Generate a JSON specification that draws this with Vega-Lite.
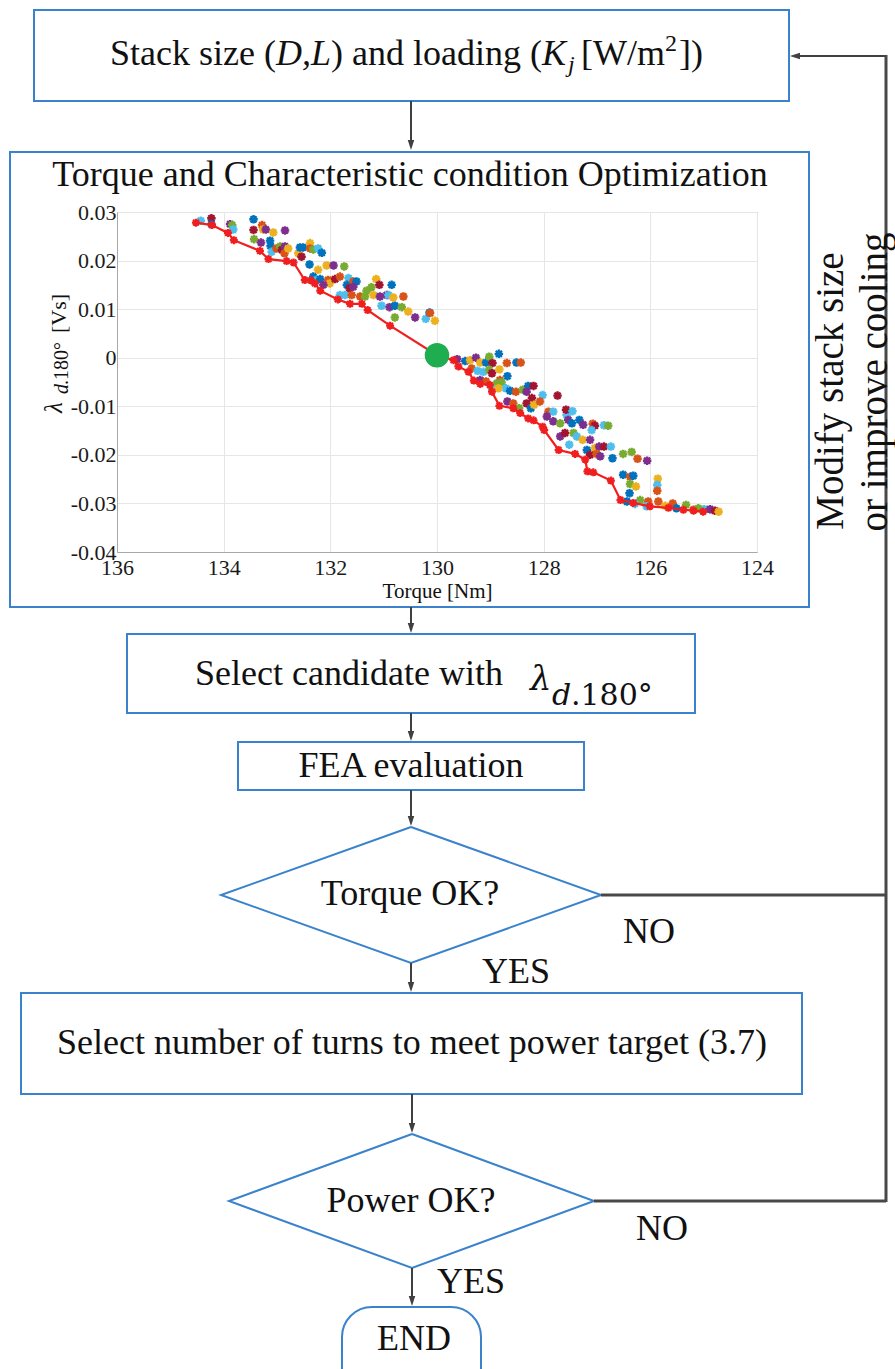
{
  "$schema": "https://vega.github.io/schema/vega-lite/v6.json",
  "width": 640,
  "height": 340,
  "autosize": {"type": "none"},
  "padding": {"left": 117, "top": 212, "right": 138, "bottom": 817},
  "background": "white",
  "config": {
    "view": {"stroke": "#a8a8a8"},
    "font": "Liberation Serif"
  },
  "datasets": {
    "boxes": [
      {"id": "top", "x": 34, "x2": 789, "y": 10, "y2": 101},
      {"id": "opt", "x": 10, "x2": 809, "y": 152, "y2": 607},
      {"id": "cand", "x": 127, "x2": 695, "y": 634, "y2": 713},
      {"id": "fea", "x": 238, "x2": 584, "y": 742, "y2": 790},
      {"id": "turns", "x": 21, "x2": 802, "y": 993, "y2": 1094}
    ],
    "endbox": [{"id": "end", "x": 342, "x2": 481, "y": 1307, "y2": 1400}],
    "diamonds": [
      {"id": "torque", "k": 1, "x": 411, "y": 827},
      {"id": "torque", "k": 2, "x": 601, "y": 895},
      {"id": "torque", "k": 3, "x": 411, "y": 963},
      {"id": "torque", "k": 4, "x": 221, "y": 895},
      {"id": "torque", "k": 5, "x": 411, "y": 827},
      {"id": "power", "k": 1, "x": 412, "y": 1134},
      {"id": "power", "k": 2, "x": 594, "y": 1201},
      {"id": "power", "k": 3, "x": 412, "y": 1268},
      {"id": "power", "k": 4, "x": 229, "y": 1201},
      {"id": "power", "k": 5, "x": 412, "y": 1134}
    ],
    "arrows": [
      {"x": 411, "y": 101, "x2": 411, "y2": 146},
      {"x": 411, "y": 607, "x2": 411, "y2": 630},
      {"x": 411, "y": 713, "x2": 411, "y2": 738},
      {"x": 411, "y": 790, "x2": 411, "y2": 823},
      {"x": 411, "y": 963, "x2": 411, "y2": 989},
      {"x": 412, "y": 1094, "x2": 412, "y2": 1130},
      {"x": 412, "y": 1268, "x2": 412, "y2": 1303},
      {"x": 886, "y": 56, "x2": 794, "y2": 56}
    ],
    "feedback": [
      {"x": 601, "y": 895, "x2": 886, "y2": 895},
      {"x": 594, "y": 1201, "x2": 886, "y2": 1201},
      {"x": 886, "y": 55, "x2": 886, "y2": 1202}
    ],
    "headsDown": [
      {"x": 411, "y": 145}, {"x": 411, "y": 628}, {"x": 411, "y": 736},
      {"x": 411, "y": 821}, {"x": 411, "y": 987}, {"x": 412, "y": 1128},
      {"x": 412, "y": 1301}
    ],
    "headsLeft": [{"x": 795, "y": 56}],
    "centered": [
      {"txt": "Torque and Characteristic condition Optimization", "x": 410, "y": 186},
      {"txt": "FEA evaluation", "x": 411, "y": 777},
      {"txt": "Torque OK?", "x": 410, "y": 905},
      {"txt": "NO", "x": 649, "y": 943},
      {"txt": "YES", "x": 516, "y": 983},
      {"txt": "Select number of turns to meet power target (3.7)", "x": 412, "y": 1054},
      {"txt": "Power OK?", "x": 411, "y": 1212},
      {"txt": "NO", "x": 662, "y": 1240},
      {"txt": "YES", "x": 471, "y": 1293},
      {"txt": "END", "x": 414, "y": 1350}
    ],
    "leftRoman": [
      {"txt": "Stack size (", "x": 110, "y": 65},
      {"txt": ") and loading (", "x": 331, "y": 65},
      {"txt": "[W/m", "x": 581, "y": 65},
      {"txt": "])", "x": 679, "y": 65},
      {"txt": "Select candidate with", "x": 195, "y": 685}
    ],
    "leftItalic": [
      {"txt": "D,L", "x": 276, "y": 65},
      {"txt": "K", "x": 542, "y": 65}
    ],
    "subSmallItalic": [{"txt": "j", "x": 568, "y": 72}],
    "supSmall": [{"txt": "2", "x": 665, "y": 51}],
    "lambdaBig": [{"txt": "λ", "x": 530, "y": 690}],
    "subDItalic": [{"txt": "d", "x": 552, "y": 705}],
    "subDeg": [{"txt": ".180°", "x": 571, "y": 705}],
    "rotated": [
      {"txt": "Modify stack size", "x": 843, "y": 391},
      {"txt": "or improve cooling", "x": 887, "y": 382}
    ],
    "ylabLambda": [{"txt": "λ", "x": 62, "y": 413}],
    "ylabD": [{"txt": "d", "x": 68, "y": 394}],
    "ylabDeg": [{"txt": ".180°", "x": 68, "y": 385}],
    "ylabUnit": [{"txt": "[Vs]", "x": 66, "y": 333}],
    "pts": [
      {"t": 134.43, "l": 0.0282, "s": "C"}, {"t": 134.23, "l": 0.0287, "s": "R"}, {"t": 134.23, "l": 0.0275, "s": "B"},
      {"t": 133.88, "l": 0.0275, "s": "P"}, {"t": 133.84, "l": 0.0273, "s": "G"}, {"t": 133.82, "l": 0.0264, "s": "C"},
      {"t": 133.44, "l": 0.0285, "s": "B"}, {"t": 133.44, "l": 0.0263, "s": "R"}, {"t": 133.28, "l": 0.0273, "s": "O"},
      {"t": 133.26, "l": 0.0264, "s": "Y"}, {"t": 133.21, "l": 0.0264, "s": "P"}, {"t": 133.07, "l": 0.0258, "s": "Y"},
      {"t": 133.43, "l": 0.0244, "s": "G"}, {"t": 133.30, "l": 0.0237, "s": "P"}, {"t": 133.13, "l": 0.0241, "s": "B"},
      {"t": 133.12, "l": 0.0230, "s": "B"}, {"t": 133.10, "l": 0.0218, "s": "C"}, {"t": 133.01, "l": 0.0225, "s": "O"},
      {"t": 132.94, "l": 0.0229, "s": "G"}, {"t": 132.91, "l": 0.0222, "s": "R"}, {"t": 132.85, "l": 0.0229, "s": "P"},
      {"t": 132.86, "l": 0.0215, "s": "O"}, {"t": 132.79, "l": 0.0225, "s": "Y"}, {"t": 132.85, "l": 0.0262, "s": "P"},
      {"t": 132.60, "l": 0.0215, "s": "Y"}, {"t": 132.57, "l": 0.0227, "s": "B"}, {"t": 132.54, "l": 0.0208, "s": "R"},
      {"t": 132.51, "l": 0.0227, "s": "B"}, {"t": 132.38, "l": 0.0236, "s": "Y"}, {"t": 132.38, "l": 0.0225, "s": "O"},
      {"t": 132.32, "l": 0.0223, "s": "G"}, {"t": 132.23, "l": 0.0225, "s": "C"}, {"t": 132.16, "l": 0.0216, "s": "B"},
      {"t": 132.39, "l": 0.0192, "s": "B"}, {"t": 132.23, "l": 0.0181, "s": "Y"}, {"t": 132.07, "l": 0.0190, "s": "Y"},
      {"t": 131.94, "l": 0.0190, "s": "P"}, {"t": 131.74, "l": 0.0188, "s": "G"}, {"t": 132.32, "l": 0.0167, "s": "B"},
      {"t": 132.26, "l": 0.0160, "s": "C"}, {"t": 132.19, "l": 0.0162, "s": "B"}, {"t": 132.04, "l": 0.0160, "s": "O"},
      {"t": 132.01, "l": 0.0153, "s": "Y"}, {"t": 131.91, "l": 0.0162, "s": "R"}, {"t": 131.82, "l": 0.0167, "s": "O"},
      {"t": 131.66, "l": 0.0164, "s": "C"}, {"t": 131.69, "l": 0.0150, "s": "B"}, {"t": 131.57, "l": 0.0157, "s": "O"},
      {"t": 131.51, "l": 0.0157, "s": "B"}, {"t": 131.64, "l": 0.0143, "s": "R"}, {"t": 131.57, "l": 0.0146, "s": "P"},
      {"t": 132.13, "l": 0.0150, "s": "P"}, {"t": 131.32, "l": 0.0138, "s": "G"}, {"t": 131.23, "l": 0.0145, "s": "G"},
      {"t": 131.14, "l": 0.0162, "s": "Y"}, {"t": 131.08, "l": 0.0150, "s": "R"}, {"t": 130.85, "l": 0.0150, "s": "B"},
      {"t": 131.82, "l": 0.0129, "s": "C"}, {"t": 131.73, "l": 0.0129, "s": "C"}, {"t": 131.60, "l": 0.0129, "s": "O"},
      {"t": 131.44, "l": 0.0126, "s": "O"}, {"t": 131.35, "l": 0.0126, "s": "G"}, {"t": 131.19, "l": 0.0129, "s": "Y"},
      {"t": 131.07, "l": 0.0126, "s": "P"}, {"t": 130.94, "l": 0.0129, "s": "P"}, {"t": 130.91, "l": 0.0129, "s": "C"},
      {"t": 130.82, "l": 0.0124, "s": "Y"}, {"t": 130.63, "l": 0.0126, "s": "O"}, {"t": 131.04, "l": 0.0107, "s": "C"},
      {"t": 130.89, "l": 0.0104, "s": "P"}, {"t": 130.79, "l": 0.0107, "s": "B"}, {"t": 130.66, "l": 0.0104, "s": "G"},
      {"t": 130.54, "l": 0.0095, "s": "Y"}, {"t": 130.41, "l": 0.0083, "s": "P"}, {"t": 130.21, "l": 0.0080, "s": "C"},
      {"t": 130.14, "l": 0.0093, "s": "B"}, {"t": 130.13, "l": 0.0092, "s": "O"}, {"t": 130.04, "l": 0.0076, "s": "Y"},
      {"t": 130.79, "l": 0.0083, "s": "G"},
      {"t": 129.62, "l": -0.0003, "s": "P"}, {"t": 129.47, "l": -0.0007, "s": "B"}, {"t": 129.38, "l": -0.0005, "s": "Y"},
      {"t": 129.27, "l": 0.0000, "s": "P"}, {"t": 129.19, "l": -0.0010, "s": "Y"}, {"t": 129.08, "l": -0.0010, "s": "B"},
      {"t": 129.02, "l": 0.0002, "s": "G"}, {"t": 128.96, "l": -0.0011, "s": "R"}, {"t": 128.84, "l": 0.0008, "s": "B"},
      {"t": 128.83, "l": -0.0024, "s": "Y"}, {"t": 128.69, "l": -0.0011, "s": "O"}, {"t": 128.51, "l": -0.0010, "s": "B"},
      {"t": 128.43, "l": -0.0010, "s": "O"}, {"t": 129.35, "l": -0.0022, "s": "O"}, {"t": 129.24, "l": -0.0027, "s": "C"},
      {"t": 129.13, "l": -0.0029, "s": "C"}, {"t": 129.02, "l": -0.0025, "s": "G"}, {"t": 128.97, "l": -0.0032, "s": "R"},
      {"t": 128.82, "l": -0.0046, "s": "O"}, {"t": 128.68, "l": -0.0038, "s": "B"}, {"t": 128.88, "l": -0.0053, "s": "G"},
      {"t": 128.79, "l": -0.0051, "s": "G"}, {"t": 128.71, "l": -0.0063, "s": "C"}, {"t": 128.63, "l": -0.0068, "s": "B"},
      {"t": 128.52, "l": -0.0070, "s": "O"}, {"t": 128.39, "l": -0.0066, "s": "G"}, {"t": 128.29, "l": -0.0058, "s": "B"},
      {"t": 128.19, "l": -0.0058, "s": "R"}, {"t": 128.32, "l": -0.0070, "s": "P"}, {"t": 128.22, "l": -0.0083, "s": "R"},
      {"t": 128.02, "l": -0.0077, "s": "C"}, {"t": 127.74, "l": -0.0078, "s": "R"}, {"t": 129.19, "l": -0.0046, "s": "P"},
      {"t": 129.08, "l": -0.0049, "s": "O"}, {"t": 128.97, "l": -0.0063, "s": "C"}, {"t": 128.85, "l": -0.0063, "s": "Y"},
      {"t": 128.68, "l": -0.0090, "s": "P"}, {"t": 128.57, "l": -0.0094, "s": "O"}, {"t": 128.46, "l": -0.0104, "s": "G"},
      {"t": 128.32, "l": -0.0094, "s": "R"}, {"t": 128.24, "l": -0.0104, "s": "B"}, {"t": 128.18, "l": -0.0097, "s": "Y"},
      {"t": 128.07, "l": -0.0090, "s": "O"}, {"t": 127.91, "l": -0.0111, "s": "O"}, {"t": 127.82, "l": -0.0111, "s": "C"},
      {"t": 127.94, "l": -0.0121, "s": "P"}, {"t": 127.82, "l": -0.0131, "s": "P"}, {"t": 127.69, "l": -0.0135, "s": "G"},
      {"t": 127.57, "l": -0.0118, "s": "C"}, {"t": 127.58, "l": -0.0107, "s": "R"}, {"t": 127.54, "l": -0.0128, "s": "P"},
      {"t": 127.46, "l": -0.0110, "s": "C"}, {"t": 127.47, "l": -0.0135, "s": "B"}, {"t": 127.33, "l": -0.0128, "s": "B"},
      {"t": 127.26, "l": -0.0138, "s": "P"}, {"t": 127.08, "l": -0.0136, "s": "O"}, {"t": 127.04, "l": -0.0140, "s": "R"},
      {"t": 127.10, "l": -0.0149, "s": "C"}, {"t": 126.87, "l": -0.0139, "s": "C"}, {"t": 126.79, "l": -0.0140, "s": "G"},
      {"t": 127.69, "l": -0.0162, "s": "P"}, {"t": 127.60, "l": -0.0155, "s": "R"}, {"t": 127.52, "l": -0.0179, "s": "C"},
      {"t": 127.44, "l": -0.0155, "s": "G"}, {"t": 127.38, "l": -0.0162, "s": "C"}, {"t": 127.27, "l": -0.0169, "s": "Y"},
      {"t": 127.13, "l": -0.0169, "s": "P"}, {"t": 127.04, "l": -0.0186, "s": "Y"}, {"t": 126.96, "l": -0.0183, "s": "P"},
      {"t": 126.87, "l": -0.0183, "s": "R"}, {"t": 126.74, "l": -0.0183, "s": "C"}, {"t": 126.71, "l": -0.0207, "s": "B"},
      {"t": 127.19, "l": -0.0190, "s": "B"}, {"t": 127.13, "l": -0.0200, "s": "R"}, {"t": 127.01, "l": -0.0198, "s": "O"},
      {"t": 126.94, "l": -0.0203, "s": "P"}, {"t": 126.51, "l": -0.0198, "s": "G"}, {"t": 126.35, "l": -0.0194, "s": "G"},
      {"t": 126.24, "l": -0.0208, "s": "O"}, {"t": 126.06, "l": -0.0212, "s": "P"}, {"t": 126.51, "l": -0.0241, "s": "B"},
      {"t": 126.38, "l": -0.0245, "s": "O"}, {"t": 126.32, "l": -0.0243, "s": "B"}, {"t": 126.38, "l": -0.0260, "s": "G"},
      {"t": 126.27, "l": -0.0265, "s": "Y"}, {"t": 126.39, "l": -0.0279, "s": "B"}, {"t": 125.86, "l": -0.0249, "s": "Y"},
      {"t": 125.87, "l": -0.0262, "s": "C"}, {"t": 125.87, "l": -0.0274, "s": "O"}, {"t": 126.19, "l": -0.0293, "s": "G"},
      {"t": 126.04, "l": -0.0296, "s": "O"}, {"t": 125.85, "l": -0.0296, "s": "O"}, {"t": 125.58, "l": -0.0300, "s": "O"},
      {"t": 125.33, "l": -0.0303, "s": "G"}, {"t": 125.19, "l": -0.0313, "s": "O"}, {"t": 124.99, "l": -0.0312, "s": "C"},
      {"t": 124.88, "l": -0.0312, "s": "P"}, {"t": 124.79, "l": -0.0315, "s": "R"}, {"t": 124.72, "l": -0.0317, "s": "Y"},
      {"t": 126.44, "l": -0.0296, "s": "B"}, {"t": 126.29, "l": -0.0301, "s": "C"}, {"t": 126.07, "l": -0.0306, "s": "C"},
      {"t": 125.72, "l": -0.0305, "s": "Y"}, {"t": 125.51, "l": -0.0310, "s": "B"}, {"t": 125.10, "l": -0.0310, "s": "G"}
    ],
    "front": [
      {"i": 1, "t": 134.52, "l": 0.0278}, {"i": 2, "t": 134.22, "l": 0.0273}, {"i": 3, "t": 133.92, "l": 0.0257},
      {"i": 4, "t": 133.81, "l": 0.0242}, {"i": 5, "t": 133.32, "l": 0.0220}, {"i": 6, "t": 133.16, "l": 0.0203},
      {"i": 7, "t": 132.82, "l": 0.0199}, {"i": 8, "t": 132.69, "l": 0.0196}, {"i": 9, "t": 132.48, "l": 0.0160},
      {"i": 10, "t": 132.36, "l": 0.0159}, {"i": 11, "t": 132.29, "l": 0.0153}, {"i": 12, "t": 132.19, "l": 0.0138},
      {"i": 13, "t": 131.86, "l": 0.0120}, {"i": 14, "t": 131.63, "l": 0.0111}, {"i": 15, "t": 131.41, "l": 0.0111},
      {"i": 16, "t": 131.30, "l": 0.0098}, {"i": 17, "t": 130.88, "l": 0.0066}, {"i": 18, "t": 130.00, "l": 0.0005},
      {"i": 19, "t": 129.69, "l": -0.0005}, {"i": 20, "t": 129.60, "l": -0.0018}, {"i": 21, "t": 129.41, "l": -0.0029},
      {"i": 22, "t": 129.31, "l": -0.0047}, {"i": 23, "t": 129.19, "l": -0.0054}, {"i": 24, "t": 129.01, "l": -0.0056},
      {"i": 25, "t": 128.97, "l": -0.0070}, {"i": 26, "t": 128.83, "l": -0.0099}, {"i": 27, "t": 128.57, "l": -0.0104},
      {"i": 28, "t": 128.44, "l": -0.0114}, {"i": 29, "t": 128.29, "l": -0.0125}, {"i": 30, "t": 128.19, "l": -0.0129},
      {"i": 31, "t": 128.02, "l": -0.0142}, {"i": 32, "t": 127.99, "l": -0.0149}, {"i": 33, "t": 127.72, "l": -0.0190},
      {"i": 34, "t": 127.41, "l": -0.0198}, {"i": 35, "t": 127.22, "l": -0.0210}, {"i": 36, "t": 127.18, "l": -0.0234},
      {"i": 37, "t": 127.07, "l": -0.0236}, {"i": 38, "t": 126.74, "l": -0.0253}, {"i": 39, "t": 126.56, "l": -0.0293},
      {"i": 40, "t": 126.32, "l": -0.0299}, {"i": 41, "t": 126.01, "l": -0.0306}, {"i": 42, "t": 125.66, "l": -0.0309},
      {"i": 43, "t": 125.38, "l": -0.0313}, {"i": 44, "t": 125.19, "l": -0.0315}, {"i": 45, "t": 125.01, "l": -0.0317}
    ],
    "chosen": [{"t": 130.0, "l": 0.0005}]
  },
  "layer": [
    {
      "data": {"name": "pts"},
      "mark": {"type": "point", "shape": "M0,-1L0,1M-1,0L1,0M-0.72,-0.72L0.72,0.72M-0.72,0.72L0.72,-0.72", "filled": false, "size": 72, "strokeWidth": 2.4, "opacity": 1},
      "encoding": {
        "x": {"field": "t", "type": "quantitative",
          "scale": {"domain": [124, 136], "reverse": true, "nice": false, "zero": false},
          "axis": {"values": [136, 134, 132, 130, 128, 126, 124], "format": "d", "title": "Torque [Nm]", "orient": "bottom",
            "titleFont": "Liberation Serif", "titleFontSize": 21, "titleFontWeight": "normal", "titleColor": "#111111", "titlePadding": 2,
            "labelFont": "Liberation Serif", "labelFontSize": 22, "labelColor": "#1a1a1a", "labelPadding": 5,
            "ticks": false, "grid": true, "gridColor": "#e6e6e6", "domainColor": "#a8a8a8", "labelFlush": false, "labelOverlap": false}},
        "y": {"field": "l", "type": "quantitative",
          "scale": {"domain": [-0.04, 0.03], "nice": false, "zero": false},
          "axis": {"values": [-0.04, -0.03, -0.02, -0.01, 0, 0.01, 0.02, 0.03], "title": null, "orient": "left",
            "labelExpr": "datum.value == 0 ? '0' : replace(format(datum.value, '.2f'), '\u2212', '-')",
            "labelFont": "Liberation Serif", "labelFontSize": 22, "labelColor": "#1a1a1a", "labelPadding": 1,
            "ticks": false, "grid": true, "gridColor": "#e6e6e6", "domainColor": "#a8a8a8", "labelFlush": false, "labelOverlap": false}},
        "color": {"field": "s", "type": "nominal", "legend": null,
          "scale": {"domain": ["B", "O", "Y", "P", "G", "C", "R"], "range": ["#0072BD", "#D95319", "#EDB120", "#7E2F8E", "#77AC30", "#4DBEEE", "#A2142F"]}}
      }
    },
    {
      "data": {"name": "front"},
      "mark": {"type": "line", "stroke": "#f01e1e", "strokeWidth": 2.2},
      "encoding": {
        "x": {"field": "t", "type": "quantitative", "scale": {"domain": [124, 136], "reverse": true, "nice": false, "zero": false}, "axis": null},
        "y": {"field": "l", "type": "quantitative", "scale": {"domain": [-0.04, 0.03], "nice": false, "zero": false}, "axis": null},
        "order": {"field": "i"}
      }
    },
    {
      "data": {"name": "front"},
      "mark": {"type": "point", "shape": "M0,-1L0,1M-1,0L1,0M-0.72,-0.72L0.72,0.72M-0.72,0.72L0.72,-0.72", "filled": false, "size": 64, "strokeWidth": 2.2, "stroke": "#f01e1e", "opacity": 1},
      "encoding": {
        "x": {"field": "t", "type": "quantitative", "scale": {"domain": [124, 136], "reverse": true, "nice": false, "zero": false}, "axis": null},
        "y": {"field": "l", "type": "quantitative", "scale": {"domain": [-0.04, 0.03], "nice": false, "zero": false}, "axis": null}
      }
    },
    {
      "data": {"name": "chosen"},
      "mark": {"type": "circle", "size": 600, "fill": "#1fae4f", "opacity": 1},
      "encoding": {
        "x": {"field": "t", "type": "quantitative", "scale": {"domain": [124, 136], "reverse": true, "nice": false, "zero": false}, "axis": null},
        "y": {"field": "l", "type": "quantitative", "scale": {"domain": [-0.04, 0.03], "nice": false, "zero": false}, "axis": null}
      }
    },
    {
      "data": {"name": "boxes"},
      "mark": {"type": "rect", "filled": false, "stroke": "#3a83cc", "strokeWidth": 2},
      "encoding": {
        "x": {"field": "x", "type": "quantitative", "scale": {"domain": [0, 895], "range": [-117, 778], "nice": false, "zero": false}, "axis": null},
        "x2": {"field": "x2"},
        "y": {"field": "y", "type": "quantitative", "scale": {"domain": [0, 1369], "range": [-212, 1157], "nice": false, "zero": false}, "axis": null},
        "y2": {"field": "y2"}
      }
    },
    {
      "data": {"name": "endbox"},
      "mark": {"type": "rect", "filled": false, "stroke": "#3a83cc", "strokeWidth": 2, "cornerRadius": 30},
      "encoding": {
        "x": {"field": "x", "type": "quantitative", "scale": {"domain": [0, 895], "range": [-117, 778], "nice": false, "zero": false}, "axis": null},
        "x2": {"field": "x2"},
        "y": {"field": "y", "type": "quantitative", "scale": {"domain": [0, 1369], "range": [-212, 1157], "nice": false, "zero": false}, "axis": null},
        "y2": {"field": "y2"}
      }
    },
    {
      "data": {"name": "diamonds"},
      "mark": {"type": "line", "stroke": "#3a83cc", "strokeWidth": 2},
      "encoding": {
        "x": {"field": "x", "type": "quantitative", "scale": {"domain": [0, 895], "range": [-117, 778], "nice": false, "zero": false}, "axis": null},
        "y": {"field": "y", "type": "quantitative", "scale": {"domain": [0, 1369], "range": [-212, 1157], "nice": false, "zero": false}, "axis": null},
        "order": {"field": "k"},
        "detail": {"field": "id"}
      }
    },
    {
      "data": {"name": "arrows"},
      "mark": {"type": "rule", "stroke": "#404040", "strokeWidth": 2},
      "encoding": {
        "x": {"field": "x", "type": "quantitative", "scale": {"domain": [0, 895], "range": [-117, 778], "nice": false, "zero": false}, "axis": null},
        "y": {"field": "y", "type": "quantitative", "scale": {"domain": [0, 1369], "range": [-212, 1157], "nice": false, "zero": false}, "axis": null},
        "x2": {"field": "x2"},
        "y2": {"field": "y2"}
      }
    },
    {
      "data": {"name": "feedback"},
      "mark": {"type": "rule", "stroke": "#484848", "strokeWidth": 3},
      "encoding": {
        "x": {"field": "x", "type": "quantitative", "scale": {"domain": [0, 895], "range": [-117, 778], "nice": false, "zero": false}, "axis": null},
        "y": {"field": "y", "type": "quantitative", "scale": {"domain": [0, 1369], "range": [-212, 1157], "nice": false, "zero": false}, "axis": null},
        "x2": {"field": "x2"},
        "y2": {"field": "y2"}
      }
    },
    {
      "data": {"name": "headsDown"},
      "mark": {"type": "point", "shape": "M-0.65,-1L0.65,-1L0,1Z", "filled": true, "fill": "#404040", "size": 100, "opacity": 1},
      "encoding": {
        "x": {"field": "x", "type": "quantitative", "scale": {"domain": [0, 895], "range": [-117, 778], "nice": false, "zero": false}, "axis": null},
        "y": {"field": "y", "type": "quantitative", "scale": {"domain": [0, 1369], "range": [-212, 1157], "nice": false, "zero": false}, "axis": null}
      }
    },
    {
      "data": {"name": "headsLeft"},
      "mark": {"type": "point", "shape": "M1,-0.65L1,0.65L-1,0Z", "filled": true, "fill": "#404040", "size": 100, "opacity": 1},
      "encoding": {
        "x": {"field": "x", "type": "quantitative", "scale": {"domain": [0, 895], "range": [-117, 778], "nice": false, "zero": false}, "axis": null},
        "y": {"field": "y", "type": "quantitative", "scale": {"domain": [0, 1369], "range": [-212, 1157], "nice": false, "zero": false}, "axis": null}
      }
    },
    {
      "data": {"name": "centered"},
      "mark": {"type": "text", "align": "center", "baseline": "alphabetic", "fontSize": 36, "font": "Liberation Serif", "color": "#111111"},
      "encoding": {
        "x": {"field": "x", "type": "quantitative", "scale": {"domain": [0, 895], "range": [-117, 778], "nice": false, "zero": false}, "axis": null},
        "y": {"field": "y", "type": "quantitative", "scale": {"domain": [0, 1369], "range": [-212, 1157], "nice": false, "zero": false}, "axis": null},
        "text": {"field": "txt"}
      }
    },
    {
      "data": {"name": "leftRoman"},
      "mark": {"type": "text", "align": "left", "baseline": "alphabetic", "fontSize": 36, "font": "Liberation Serif", "color": "#111111"},
      "encoding": {
        "x": {"field": "x", "type": "quantitative", "scale": {"domain": [0, 895], "range": [-117, 778], "nice": false, "zero": false}, "axis": null},
        "y": {"field": "y", "type": "quantitative", "scale": {"domain": [0, 1369], "range": [-212, 1157], "nice": false, "zero": false}, "axis": null},
        "text": {"field": "txt"}
      }
    },
    {
      "data": {"name": "leftItalic"},
      "mark": {"type": "text", "align": "left", "baseline": "alphabetic", "fontSize": 36, "fontStyle": "italic", "font": "Liberation Serif", "color": "#111111"},
      "encoding": {
        "x": {"field": "x", "type": "quantitative", "scale": {"domain": [0, 895], "range": [-117, 778], "nice": false, "zero": false}, "axis": null},
        "y": {"field": "y", "type": "quantitative", "scale": {"domain": [0, 1369], "range": [-212, 1157], "nice": false, "zero": false}, "axis": null},
        "text": {"field": "txt"}
      }
    },
    {
      "data": {"name": "subSmallItalic"},
      "mark": {"type": "text", "align": "left", "baseline": "alphabetic", "fontSize": 24, "fontStyle": "italic", "font": "Liberation Serif", "color": "#111111"},
      "encoding": {
        "x": {"field": "x", "type": "quantitative", "scale": {"domain": [0, 895], "range": [-117, 778], "nice": false, "zero": false}, "axis": null},
        "y": {"field": "y", "type": "quantitative", "scale": {"domain": [0, 1369], "range": [-212, 1157], "nice": false, "zero": false}, "axis": null},
        "text": {"field": "txt"}
      }
    },
    {
      "data": {"name": "supSmall"},
      "mark": {"type": "text", "align": "left", "baseline": "alphabetic", "fontSize": 24, "font": "Liberation Serif", "color": "#111111"},
      "encoding": {
        "x": {"field": "x", "type": "quantitative", "scale": {"domain": [0, 895], "range": [-117, 778], "nice": false, "zero": false}, "axis": null},
        "y": {"field": "y", "type": "quantitative", "scale": {"domain": [0, 1369], "range": [-212, 1157], "nice": false, "zero": false}, "axis": null},
        "text": {"field": "txt"}
      }
    },
    {
      "data": {"name": "lambdaBig"},
      "mark": {"type": "text", "align": "left", "baseline": "alphabetic", "fontSize": 34, "fontStyle": "italic", "font": "DejaVu Serif", "color": "#111111"},
      "encoding": {
        "x": {"field": "x", "type": "quantitative", "scale": {"domain": [0, 895], "range": [-117, 778], "nice": false, "zero": false}, "axis": null},
        "y": {"field": "y", "type": "quantitative", "scale": {"domain": [0, 1369], "range": [-212, 1157], "nice": false, "zero": false}, "axis": null},
        "text": {"field": "txt"}
      }
    },
    {
      "data": {"name": "subDItalic"},
      "mark": {"type": "text", "align": "left", "baseline": "alphabetic", "fontSize": 30, "fontStyle": "italic", "font": "DejaVu Serif", "color": "#111111"},
      "encoding": {
        "x": {"field": "x", "type": "quantitative", "scale": {"domain": [0, 895], "range": [-117, 778], "nice": false, "zero": false}, "axis": null},
        "y": {"field": "y", "type": "quantitative", "scale": {"domain": [0, 1369], "range": [-212, 1157], "nice": false, "zero": false}, "axis": null},
        "text": {"field": "txt"}
      }
    },
    {
      "data": {"name": "subDeg"},
      "mark": {"type": "text", "align": "left", "baseline": "alphabetic", "fontSize": 30, "font": "DejaVu Serif", "color": "#111111"},
      "encoding": {
        "x": {"field": "x", "type": "quantitative", "scale": {"domain": [0, 895], "range": [-117, 778], "nice": false, "zero": false}, "axis": null},
        "y": {"field": "y", "type": "quantitative", "scale": {"domain": [0, 1369], "range": [-212, 1157], "nice": false, "zero": false}, "axis": null},
        "text": {"field": "txt"}
      }
    },
    {
      "data": {"name": "rotated"},
      "mark": {"type": "text", "align": "center", "baseline": "alphabetic", "angle": 270, "fontSize": 39, "font": "Liberation Serif", "color": "#111111"},
      "encoding": {
        "x": {"field": "x", "type": "quantitative", "scale": {"domain": [0, 895], "range": [-117, 778], "nice": false, "zero": false}, "axis": null},
        "y": {"field": "y", "type": "quantitative", "scale": {"domain": [0, 1369], "range": [-212, 1157], "nice": false, "zero": false}, "axis": null},
        "text": {"field": "txt"}
      }
    },
    {
      "data": {"name": "ylabLambda"},
      "mark": {"type": "text", "align": "left", "baseline": "alphabetic", "angle": 270, "fontSize": 25, "fontStyle": "italic", "font": "Liberation Serif", "color": "#111111"},
      "encoding": {
        "x": {"field": "x", "type": "quantitative", "scale": {"domain": [0, 895], "range": [-117, 778], "nice": false, "zero": false}, "axis": null},
        "y": {"field": "y", "type": "quantitative", "scale": {"domain": [0, 1369], "range": [-212, 1157], "nice": false, "zero": false}, "axis": null},
        "text": {"field": "txt"}
      }
    },
    {
      "data": {"name": "ylabD"},
      "mark": {"type": "text", "align": "left", "baseline": "alphabetic", "angle": 270, "fontSize": 20, "fontStyle": "italic", "font": "Liberation Serif", "color": "#111111"},
      "encoding": {
        "x": {"field": "x", "type": "quantitative", "scale": {"domain": [0, 895], "range": [-117, 778], "nice": false, "zero": false}, "axis": null},
        "y": {"field": "y", "type": "quantitative", "scale": {"domain": [0, 1369], "range": [-212, 1157], "nice": false, "zero": false}, "axis": null},
        "text": {"field": "txt"}
      }
    },
    {
      "data": {"name": "ylabDeg"},
      "mark": {"type": "text", "align": "left", "baseline": "alphabetic", "angle": 270, "fontSize": 20, "font": "Liberation Serif", "color": "#111111"},
      "encoding": {
        "x": {"field": "x", "type": "quantitative", "scale": {"domain": [0, 895], "range": [-117, 778], "nice": false, "zero": false}, "axis": null},
        "y": {"field": "y", "type": "quantitative", "scale": {"domain": [0, 1369], "range": [-212, 1157], "nice": false, "zero": false}, "axis": null},
        "text": {"field": "txt"}
      }
    },
    {
      "data": {"name": "ylabUnit"},
      "mark": {"type": "text", "align": "left", "baseline": "alphabetic", "angle": 270, "fontSize": 22, "font": "Liberation Serif", "color": "#111111"},
      "encoding": {
        "x": {"field": "x", "type": "quantitative", "scale": {"domain": [0, 895], "range": [-117, 778], "nice": false, "zero": false}, "axis": null},
        "y": {"field": "y", "type": "quantitative", "scale": {"domain": [0, 1369], "range": [-212, 1157], "nice": false, "zero": false}, "axis": null},
        "text": {"field": "txt"}
      }
    }
  ],
  "resolve": {"scale": {"x": "independent", "y": "independent"}}
}
